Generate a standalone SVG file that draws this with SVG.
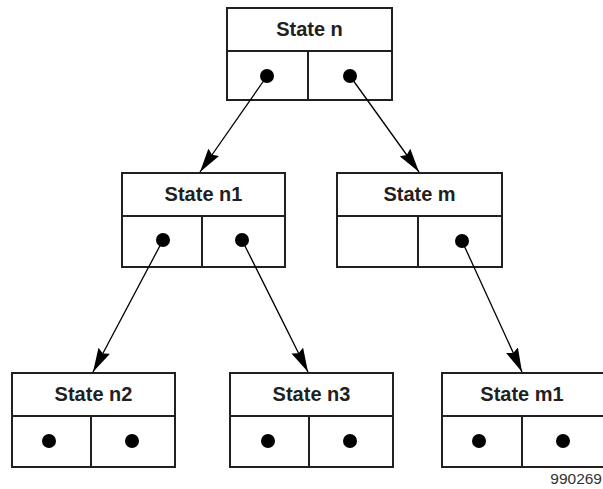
<svg xmlns="http://www.w3.org/2000/svg" width="603" height="489" viewBox="0 0 603 489">
<style>
.box{fill:#fff;stroke:#231f20;stroke-width:2}
.div{stroke:#231f20;stroke-width:2}
.t{font-family:"Liberation Sans",Arial,sans-serif;font-weight:bold;font-size:20px;fill:#231f20;text-anchor:middle}
.dot{fill:#000}
.c{stroke:#000;stroke-width:1.3;fill:none;marker-end:url(#ah)}
.id{font-family:"Liberation Sans",Arial,sans-serif;font-size:15.5px;fill:#333;text-anchor:end}
</style>
<defs>
<marker id="ah" markerUnits="userSpaceOnUse" markerWidth="26" markerHeight="13" refX="24" refY="6.5" orient="auto">
<path d="M0,0 L24,6.5 L0,13 L3,6.5 z" fill="#000"/>
</marker>
</defs>
<g id="state-n">
<rect class="box" x="227" y="8" width="165" height="92"/>
<line class="div" x1="227" y1="51" x2="392" y2="51"/>
<line class="div" x1="308" y1="51" x2="308" y2="100"/>
<text class="t" x="309.5" y="36">State n</text>
<circle class="dot" cx="267" cy="76" r="7"/>
<circle class="dot" cx="350" cy="76" r="7"/>
</g>
<g id="state-n1">
<rect class="box" x="122" y="173" width="163" height="94"/>
<line class="div" x1="122" y1="216" x2="285" y2="216"/>
<line class="div" x1="202" y1="216" x2="202" y2="267"/>
<text class="t" x="203.5" y="201">State n1</text>
<circle class="dot" cx="163" cy="240" r="7"/>
<circle class="dot" cx="242" cy="240" r="7"/>
</g>
<g id="state-m">
<rect class="box" x="337" y="173" width="165" height="94"/>
<line class="div" x1="337" y1="216" x2="502" y2="216"/>
<line class="div" x1="418" y1="216" x2="418" y2="267"/>
<text class="t" x="419.5" y="201">State m</text>
<circle class="dot" cx="462" cy="241" r="7"/>
</g>
<g id="state-n2">
<rect class="box" x="12" y="373" width="163" height="94"/>
<line class="div" x1="12" y1="416" x2="175" y2="416"/>
<line class="div" x1="91" y1="416" x2="91" y2="467"/>
<text class="t" x="93.5" y="401">State n2</text>
<circle class="dot" cx="49" cy="441" r="7"/>
<circle class="dot" cx="132" cy="441" r="7"/>
</g>
<g id="state-n3">
<rect class="box" x="230" y="373" width="163" height="94"/>
<line class="div" x1="230" y1="416" x2="393" y2="416"/>
<line class="div" x1="309" y1="416" x2="309" y2="467"/>
<text class="t" x="311.5" y="401">State n3</text>
<circle class="dot" cx="268" cy="441" r="7"/>
<circle class="dot" cx="350" cy="441" r="7"/>
</g>
<g id="state-m1">
<rect class="box" x="442" y="373" width="163" height="94"/>
<line class="div" x1="442" y1="416" x2="605" y2="416"/>
<line class="div" x1="522" y1="416" x2="522" y2="467"/>
<text class="t" x="522" y="401">State m1</text>
<circle class="dot" cx="479" cy="441" r="7"/>
<circle class="dot" cx="563" cy="441" r="7"/>
</g>
<g id="connectors">
<line class="c" x1="267" y1="76" x2="200" y2="172"/>
<line class="c" x1="350" y1="76" x2="419" y2="172"/>
<line class="c" x1="163" y1="240" x2="93" y2="372"/>
<line class="c" x1="242" y1="240" x2="308" y2="372"/>
<line class="c" x1="462" y1="241" x2="522" y2="372"/>
</g>
<text class="id" x="602" y="484">990269</text>
</svg>
